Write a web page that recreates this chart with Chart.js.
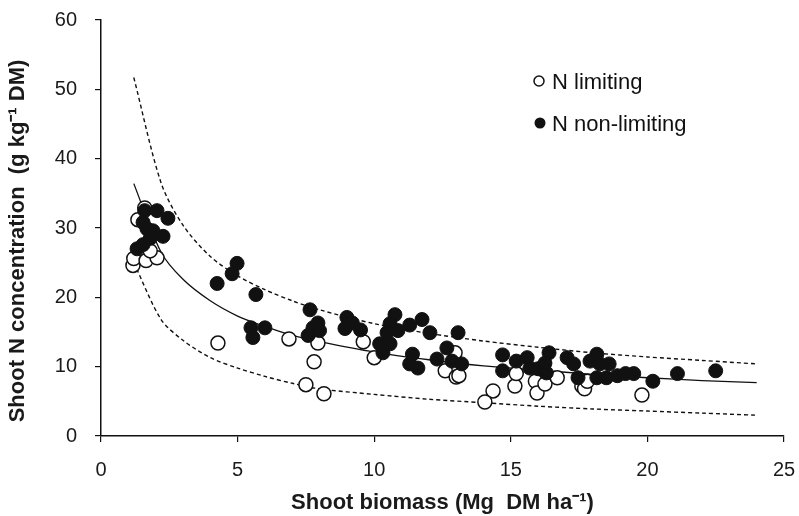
<!DOCTYPE html>
<html>
<head>
<meta charset="utf-8">
<script src="https://cdn.jsdelivr.net/npm/chart.js@4.4.1/dist/chart.umd.min.js"></script>
<style>
  html, body { margin: 0; padding: 0; background: #fff; }
  #wrap { width: 799px; height: 516px; }
</style>
</head>
<body>
<div id="wrap"><canvas id="chart" width="799" height="516"></canvas></div>
<script>
// Data
const limitingX = [1.17, 1.2, 1.65, 2.05, 1.35, 1.6, 1.8, 4.28, 6.88, 7.94, 7.8, 7.5, 8.16, 9.6, 10.0, 12.6, 13.0, 12.96, 13.1, 14.35, 14.05, 15.15, 15.2, 15.9, 15.96, 16.25, 16.7, 17.6, 17.7, 17.8, 19.8];
const limitingY = [24.6, 25.6, 25.3, 25.7, 31.2, 32.9, 26.7, 13.4, 14.0, 13.4, 10.7, 7.4, 6.1, 13.6, 11.3, 9.4, 8.5, 12.0, 8.7, 6.5, 4.9, 7.2, 9.0, 7.9, 6.2, 7.5, 8.4, 7.2, 6.8, 7.9, 5.9];

const nonLimitingX = [1.6, 2.05, 2.45, 1.32, 1.54, 1.8, 1.68, 1.9, 2.27, 1.54,
  4.98, 4.8, 4.25, 5.67, 7.65, 5.49, 6.0, 5.56, 7.94, 7.76, 7.58, 8.0,
  9.0, 9.2, 8.93, 9.5, 10.76, 10.58, 10.47, 10.87, 11.3, 11.75, 12.04, 13.07, 10.2, 10.58, 10.32, 11.4, 11.3, 11.6, 12.3, 12.66, 12.85, 13.2,
  14.7, 14.7, 15.2, 15.6, 15.7, 16.0, 16.4, 16.25, 16.3, 17.06, 17.3, 17.46, 18.15, 17.9, 18.26, 18.6, 18.15, 18.5, 18.9, 19.2,
  19.5, 20.2, 21.1, 22.5];
const nonLimitingY = [32.5, 32.5, 31.4, 27.0, 27.6, 28.5, 29.9, 29.6, 28.8, 30.8,
  24.9, 23.4, 22.0, 20.4, 18.2, 15.6, 15.6, 14.2, 16.3, 15.6, 14.5, 15.2,
  17.1, 16.3, 15.5, 15.3, 17.5, 16.2, 14.9, 15.2, 16.0, 16.8, 14.9, 14.9, 13.3, 13.3, 12.0, 11.8, 10.4, 9.8, 11.1, 12.7, 10.8, 10.4,
  11.7, 9.4, 10.8, 11.3, 9.8, 9.7, 12.0, 10.5, 9.1, 11.3, 10.4, 8.4, 11.8, 10.8, 10.4, 10.4, 8.4, 8.4, 8.7, 9.0,
  9.0, 7.9, 9.0, 9.4];

// curves (critical N dilution curve and its bounds)
const curveX = [1.2, 2.2, 3, 4, 5, 6, 7, 8, 10, 12, 14, 16, 18, 20, 22, 24];
const criticalN = [36.4, 26.5, 22.6, 19.5, 17.3, 15.8, 14.5, 13.6, 12.1, 11.0, 10.1, 9.5, 8.9, 8.4, 8.0, 7.7];
const upperN = [51.7, 36.5, 30.4, 25.9, 23.1, 21.1, 19.5, 18.2, 16.2, 14.8, 13.7, 12.8, 12.0, 11.4, 10.9, 10.4];
const lowerN = [25.0, 16.8, 13.8, 11.3, 9.8, 8.6, 7.6, 6.8, 6.0, 5.3, 4.8, 4.3, 3.9, 3.6, 3.3, 3.0];

const xTicks = [0, 5, 10, 15, 20, 25];
const yTicks = [0, 10, 20, 30, 40, 50, 60];

const legendLabels = ["N limiting", "N non-limiting"];
const yTitle = "Shoot N concentration  (g kg\u207B\u00B9 DM)";
const xTitle = "Shoot biomass (Mg  DM ha\u207B\u00B9)";

const toPoints = (xs, ys) => xs.map((x, i) => ({ x: x, y: ys[i] }));

const FONT = "'Liberation Sans', Arial, Helvetica, sans-serif";
const INK = "#111";

// in-plot legend + y title (the title sits a bit below the axis centre in the original)
const extrasPlugin = {
  id: "extras",
  afterDraw(chart) {
    const ctx = chart.ctx;
    ctx.save();
    ctx.font = "22px " + FONT;
    ctx.textBaseline = "alphabetic";
    ctx.textAlign = "left";
    // open marker
    ctx.beginPath();
    ctx.arc(539, 81, 5, 0, Math.PI * 2);
    ctx.fillStyle = "#fff";
    ctx.fill();
    ctx.lineWidth = 1.5;
    ctx.strokeStyle = INK;
    ctx.stroke();
    ctx.fillStyle = INK;
    ctx.fillText(legendLabels[0], 552, 89);
    // filled marker
    ctx.beginPath();
    ctx.arc(540, 123, 5.5, 0, Math.PI * 2);
    ctx.fill();
    ctx.fillText(legendLabels[1], 552, 131);

    // y axis title
    ctx.translate(18, 241);
    ctx.rotate(-Math.PI / 2);
    ctx.font = "bold 22px " + FONT;
    ctx.fillStyle = "#1a1a1a";
    ctx.textAlign = "center";
    ctx.textBaseline = "middle";
    ctx.fillText(yTitle, 0, 0);
    ctx.restore();
  }
};

const lineStyle = {
  showLine: true,
  pointRadius: 0,
  pointHoverRadius: 0,
  borderColor: INK,
  fill: false,
  tension: 0.3
};

new Chart(document.getElementById("chart"), {
  type: "scatter",
  data: {
    datasets: [
      {
        label: legendLabels[1],
        data: toPoints(nonLimitingX, nonLimitingY),
        backgroundColor: INK,
        borderColor: INK,
        borderWidth: 1,
        pointRadius: 7,
        pointHoverRadius: 7
      },
      {
        label: legendLabels[0],
        data: toPoints(limitingX, limitingY),
        backgroundColor: "#fff",
        borderColor: INK,
        borderWidth: 1.5,
        pointRadius: 7,
        pointHoverRadius: 7
      },
      Object.assign({ label: "Nc", data: toPoints(curveX, criticalN), borderWidth: 1.3 }, lineStyle),
      Object.assign({ label: "upper", data: toPoints(curveX, upperN), borderWidth: 1.4, borderDash: [4, 3] }, lineStyle),
      Object.assign({ label: "lower", data: toPoints(curveX, lowerN), borderWidth: 1.4, borderDash: [4, 3] }, lineStyle)
    ]
  },
  options: {
    responsive: false,
    animation: false,
    layout: { padding: { top: 20, right: 15, bottom: 0, left: 0 } },
    plugins: {
      legend: { display: false },
      tooltip: { enabled: false }
    },
    scales: {
      x: {
        type: "linear",
        min: 0,
        max: 25,
        afterBuildTicks: (s) => { s.ticks = xTicks.map(v => ({ value: v })); },
        afterFit: (s) => { s.height = 80; s.paddingLeft = 0; s.paddingRight = 0; },
        grid: { drawOnChartArea: false, drawTicks: true, tickLength: 6, color: INK, lineWidth: 1.2 },
        border: { display: true, color: INK, width: 1.5 },
        ticks: { color: "#1a1a1a", font: { family: FONT, size: 20 }, padding: 16, maxRotation: 0 },
        title: {
          display: true,
          text: xTitle,
          color: "#1a1a1a",
          font: { family: FONT, size: 22, weight: "bold" },
          padding: { top: 5, bottom: 0 }
        }
      },
      y: {
        type: "linear",
        min: 0,
        max: 60,
        afterBuildTicks: (s) => { s.ticks = yTicks.map(v => ({ value: v })); },
        afterFit: (s) => { s.width = 101; s.paddingTop = 0; s.paddingBottom = 0; },
        grid: { drawOnChartArea: false, drawTicks: true, tickLength: 6, color: INK, lineWidth: 1.2 },
        border: { display: true, color: INK, width: 1.5 },
        ticks: { color: "#1a1a1a", font: { family: FONT, size: 20 }, padding: 18 },
        title: { display: false }
      }
    }
  },
  plugins: [extrasPlugin]
});
</script>
</body>
</html>
